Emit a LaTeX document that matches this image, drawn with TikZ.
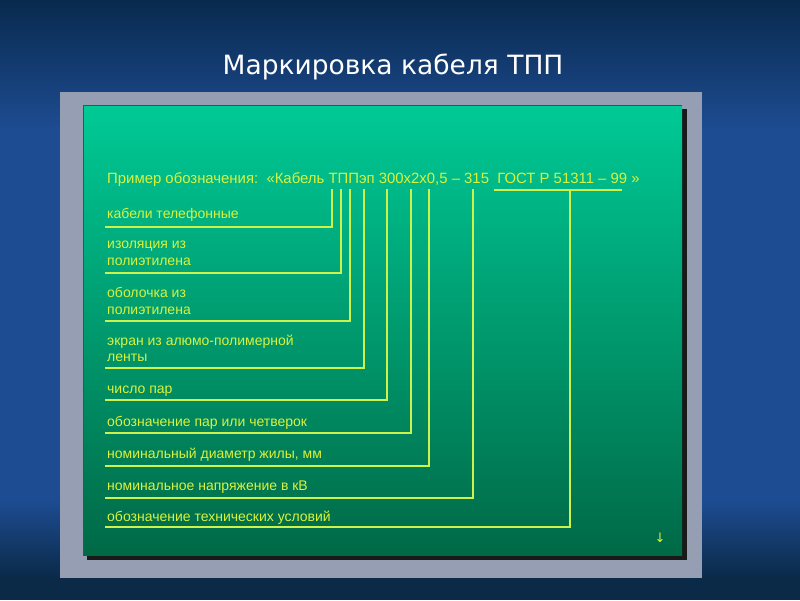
\documentclass[tikz,border=0pt]{standalone}
\usepackage{fontspec}
\setmainfont{Liberation Sans}
\newfontfamily\titlefont{DejaVu Sans}
\newfontfamily\symfont{DejaVu Sans}
\definecolor{bgtop}{RGB}{8,42,78}
\definecolor{bgmid}{RGB}{30,76,146}
\definecolor{bgstrip}{RGB}{10,42,72}
\definecolor{framegray}{RGB}{150,158,180}
\definecolor{greentop}{RGB}{0,202,150}
\definecolor{greenmid}{RGB}{0,160,112}
\definecolor{greenbot}{RGB}{0,105,70}
\definecolor{txtyel}{RGB}{218,242,60}
\definecolor{lnyel}{RGB}{205,242,75}
\tikzset{
  hdr/.style={font=\fontsize{14.9}{17}\selectfont, text=txtyel, inner sep=0pt, anchor=base west},
  lbl/.style={font=\fontsize{14}{16}\selectfont, text=txtyel, inner sep=0pt, anchor=base west},
  ln/.style={draw=lnyel, line width=1.3pt},
  ttl/.style={font=\titlefont\fontsize{26.5}{31}\selectfont, text=white, inner sep=0pt, anchor=base}
}
\begin{document}
\begin{tikzpicture}[x=1pt,y=-1pt]
\useasboundingbox (0,0) rectangle (800,600);
% background
\fill[bgmid] (0,0) rectangle (800,600);
\shade[top color=bgtop, bottom color=bgmid] (0,0) rectangle (800,130);
\shade[top color=bgmid, bottom color=bgstrip] (0,500) rectangle (800,578);
\fill[bgstrip] (0,578) rectangle (800,600);
% frame
\fill[framegray] (60,92) rectangle (702,578);
\fill[black!90] (87,109) rectangle (687,560);
\shade[top color=greentop, middle color=greenmid, bottom color=greenbot] (83,105) rectangle (682,555);
\draw[black!70, line width=0.8pt] (83,555) -- (83,105) -- (682,105);
% title
\node[ttl] (title) at (393,74) {Маркировка кабеля ТПП};
% header
\node[hdr] (hdr) at (107,183) {Пример обозначения:\ \ «Кабель ТППэп 300х2х0,5 – 315\ \ ГОСТ Р 51311 – 99 »};
% labels
\node[lbl] (l1) at (107,218) {кабели телефонные};
\node[lbl] (l2a) at (107,248) {изоляция из};
\node[lbl] (l2b) at (107,265) {полиэтилена};
\node[lbl] (l3a) at (107,297) {оболочка из};
\node[lbl] (l3b) at (107,314) {полиэтилена};
\node[lbl] (l4a) at (107,345) {экран из алюмо-полимерной};
\node[lbl] (l4b) at (107,361) {ленты};
\node[lbl] (l5) at (107,393) {число пар};
\node[lbl] (l6) at (107,426) {обозначение пар или четверок};
\node[lbl] (l7) at (107,458) {номинальный диаметр жилы, мм};
\node[lbl] (l8) at (107,490) {номинальное напряжение в кВ};
\node[lbl] (l9) at (107,521) {обозначение технических условий};
\node[font=\symfont\fontsize{13}{15}\selectfont, text=txtyel, inner sep=0pt] (arr) at (660,538) {↓};
% connector tops
\coordinate (t1) at (332,189);
\coordinate (t2) at (341,189);
\coordinate (t3) at (350,189);
\coordinate (t4) at (364,189);
\coordinate (t5) at (387,189);
\coordinate (t6) at (411,189);
\coordinate (t7) at (429,189);
\coordinate (t8) at (473,189);
\coordinate (g1) at (494,190);
\coordinate (g2) at (622,190);
\coordinate (t9) at (570,190);
% connector ends
\coordinate (u1) at (105,227);
\coordinate (u2) at (105,273);
\coordinate (u3) at (105,321);
\coordinate (u4) at (105,368);
\coordinate (u5) at (105,400);
\coordinate (u6) at (105,433);
\coordinate (u7) at (105,466);
\coordinate (u8) at (105,498);
\coordinate (u9) at (105,527);
\draw[ln] (t1) |- (u1);
\draw[ln] (t2) |- (u2);
\draw[ln] (t3) |- (u3);
\draw[ln] (t4) |- (u4);
\draw[ln] (t5) |- (u5);
\draw[ln] (t6) |- (u6);
\draw[ln] (t7) |- (u7);
\draw[ln] (t8) |- (u8);
\draw[ln] (g1) -- (g2);
\draw[ln] (t9) |- (u9);
\end{tikzpicture}
\end{document}
